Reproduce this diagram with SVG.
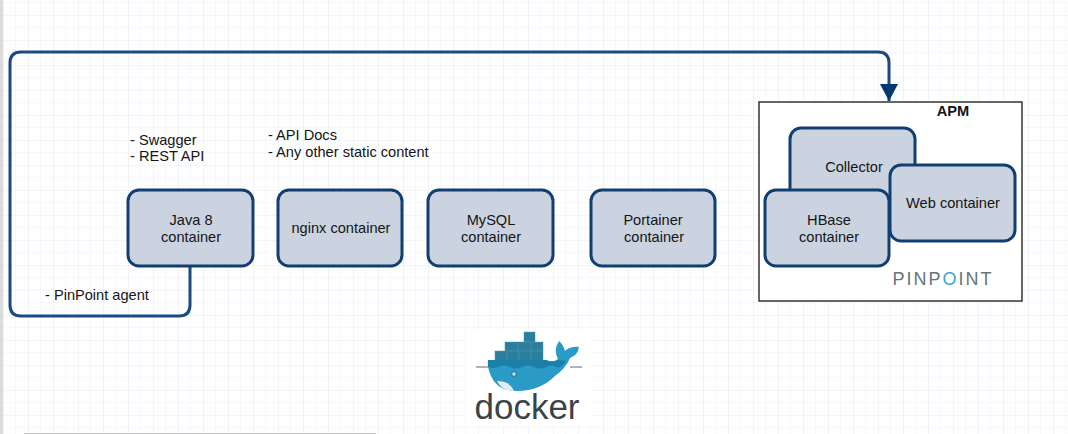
<svg xmlns="http://www.w3.org/2000/svg" width="1068" height="434" viewBox="0 0 1068 434">
<defs>
<pattern id="grid" x="3" y="15" width="25" height="25" patternUnits="userSpaceOnUse">
<path d="M12.5 0V25M0 12.5H25" stroke="#f6f6fd" stroke-width="1" fill="none"/>
<path d="M0 0V25M0 0H25" stroke="#e9e9f8" stroke-width="1.2" fill="none"/>
</pattern>
<marker id="arrow" markerUnits="userSpaceOnUse" markerWidth="18" markerHeight="18" refX="17" refY="9" orient="auto">
<path d="M0 0L17 9L0 18Z" fill="#00376f"/>
</marker>
</defs>
<style>
text{font-family:"Liberation Sans",Arial,sans-serif;font-size:14.6px;fill:#151515}
.box{fill:#cbd3e1;stroke:#123f72;stroke-width:3}
.c{text-anchor:middle}
.conn{fill:none;stroke:#1a4a7e;stroke-width:3}
.stack{fill:#2b7f9c;stroke:#4c97b0;stroke-width:.5}
</style>
<rect width="1068" height="434" fill="#fefeff"/>
<rect width="1068" height="434" fill="url(#grid)"/>
<rect width="3" height="434" fill="#dcdcdc"/>
<rect x="24" y="433" width="352" height="1" fill="#c4c4c4"/>
<g id="connectors">
<path class="conn" d="M190 266V305Q190 316 179 316H21Q10 316 10 305V63Q10 52 21 52H878Q889 52 889 63V101" marker-end="url(#arrow)"/>
</g>
<g id="apm">
<rect x="759" y="102" width="263" height="199" fill="#fff" stroke="#333" stroke-width="1.5"/>
<text x="953" y="116" class="c" style="font-weight:bold">APM</text>
<text x="943" y="285" class="c" style="font-size:18px;letter-spacing:2px;fill:#66757a">PINP<tspan style="fill:#32a8dc">O</tspan>INT</text>
</g>
<g id="swagger-note"><text x="130" y="145">- Swagger</text><text x="130" y="161">- REST API</text></g>
<g id="nginx-note"><text x="268" y="140">- API Docs</text><text x="268" y="157">- Any other static content</text></g>
<g id="agent-note"><text x="45" y="300">- PinPoint agent</text></g>
<g id="java"><rect class="box" x="128" y="190" width="125" height="76" rx="11"/><text class="c" x="191" y="225">Java 8</text><text class="c" x="191" y="242">container</text></g>
<g id="nginx"><rect class="box" x="278" y="190" width="124" height="76" rx="11"/><text class="c" x="341" y="233">nginx container</text></g>
<g id="mysql"><rect class="box" x="428" y="190" width="125" height="76" rx="11"/><text class="c" x="491" y="225">MySQL</text><text class="c" x="491" y="242">container</text></g>
<g id="portainer"><rect class="box" x="591" y="190" width="124" height="76" rx="11"/><text class="c" x="653" y="225">Portainer</text><text class="c" x="654" y="242">container</text></g>
<g id="collector"><rect class="box" x="790" y="128" width="125" height="76" rx="11"/><text class="c" x="854" y="172">Collector</text></g>
<g id="web"><rect class="box" x="890" y="165" width="125" height="76" rx="11"/><text class="c" x="953" y="208">Web container</text></g>
<g id="hbase"><rect class="box" x="765" y="190" width="124" height="76" rx="11"/><text class="c" x="829" y="225">HBase</text><text class="c" x="829" y="242">container</text></g>
<g id="docker-logo">
<rect x="466" y="330" width="125" height="96" fill="#fff"/>
<rect class="stack" x="524" y="332" width="11" height="10"/>
<rect class="stack" x="505" y="342" width="13" height="9"/><rect class="stack" x="518" y="342" width="13" height="9"/><rect class="stack" x="531" y="342" width="12" height="9"/>
<rect class="stack" x="495" y="351" width="12" height="10"/><rect class="stack" x="507" y="351" width="12" height="10"/><rect class="stack" x="519" y="351" width="12" height="10"/><rect class="stack" x="531" y="351" width="12" height="10"/>
<path d="M488 360H546Q553 363 558 359Q553 350 559 341Q563 344 565 351Q571 346 579 347Q578 355 570 358Q566 368 555 376Q540 391 517 391Q497 391 491 376Q487 367 488 360Z" fill="#2a9ac7"/>
<path d="M488 360H546Q553 363 558 360L566 361Q563 366 558 368Q552 364 546 367Q540 370 534 367Q528 364 522 367Q516 370 510 367Q504 364 498 367Q493 369 488 367Z" fill="#1c7fa6"/>
<path d="M476 367H488M570 367H582" stroke="#667" stroke-width="1.2"/>
<path d="M497 381Q510 381 514 391Q502 391 497 381Z" fill="#e4eef2"/>
<circle cx="514" cy="374" r="2.3" fill="#bfe3f0" stroke="#145f80" stroke-width="0.8"/>
<text x="527" y="419" class="c" style="font-size:35px;fill:#3c4347">docker</text>
</g>
</svg>
